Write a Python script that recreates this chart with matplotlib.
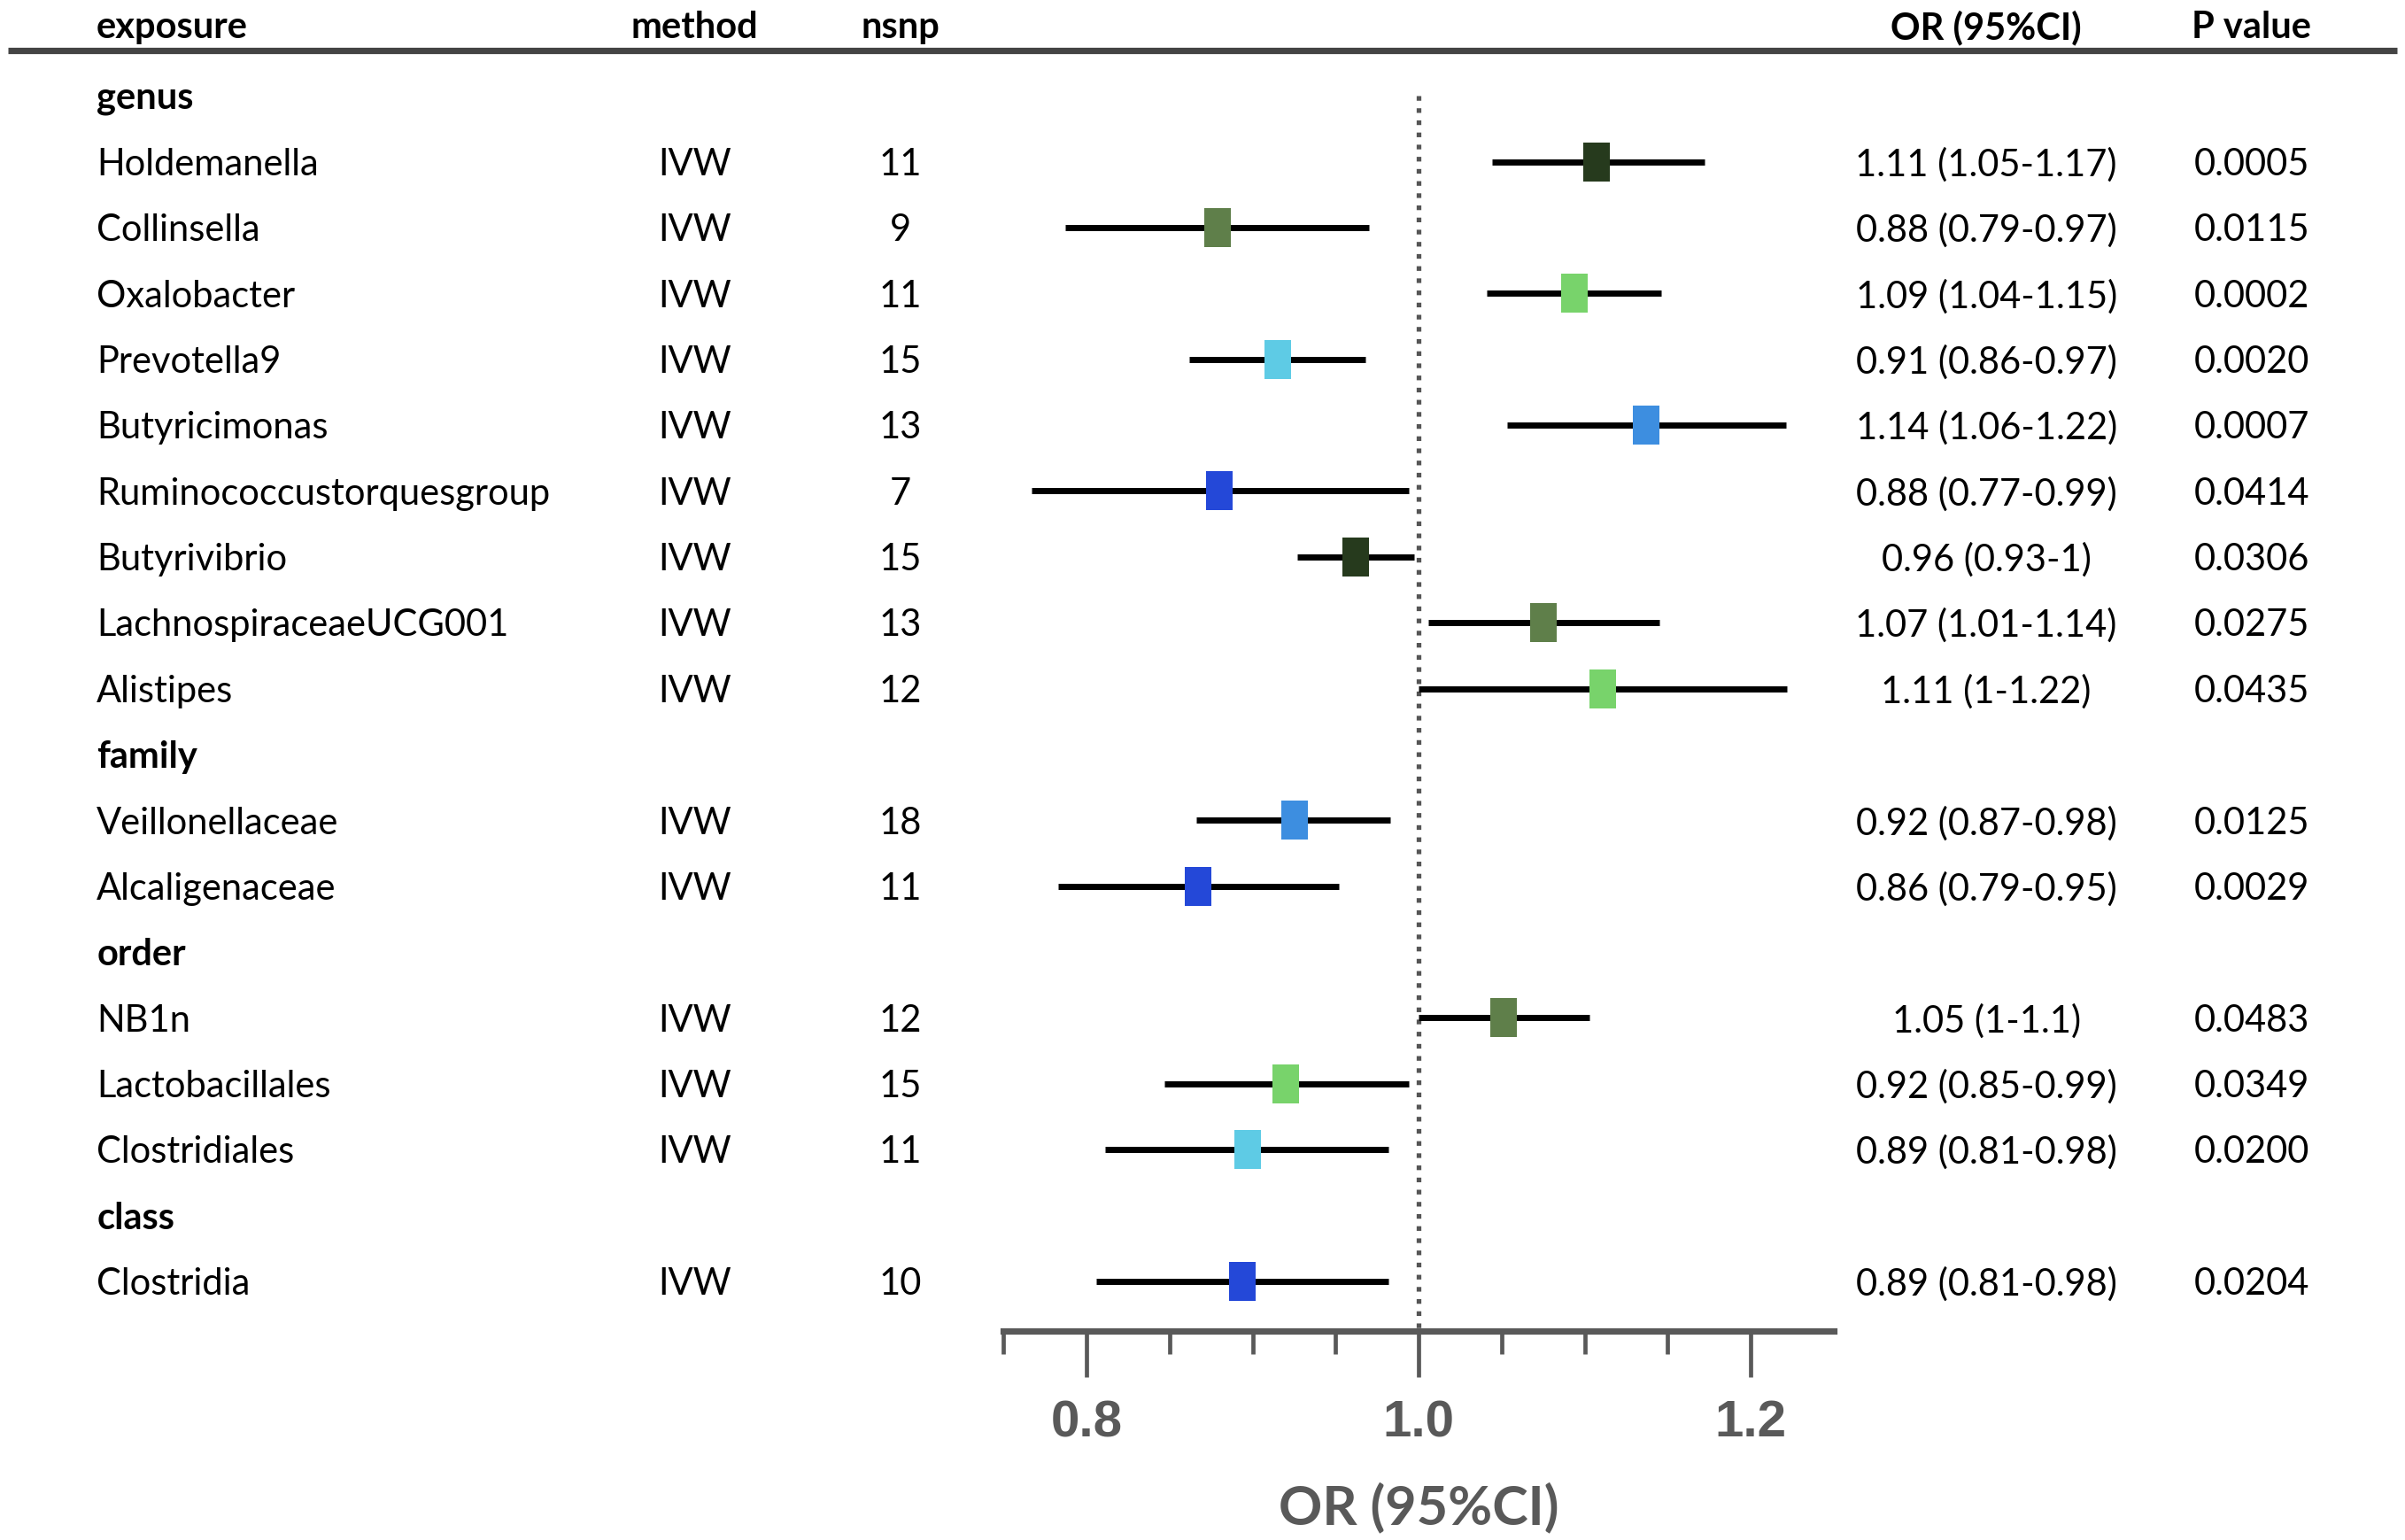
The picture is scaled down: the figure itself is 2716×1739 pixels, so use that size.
import matplotlib.pyplot as plt
from matplotlib import transforms
from matplotlib.ticker import FixedLocator

# data
sections = ['genus', 'family', 'order', 'class']
section_sizes = [9, 2, 3, 1]
exposures = ['Holdemanella', 'Collinsella', 'Oxalobacter', 'Prevotella9', 'Butyricimonas',
             'Ruminococcustorquesgroup', 'Butyrivibrio', 'LachnospiraceaeUCG001', 'Alistipes',
             'Veillonellaceae', 'Alcaligenaceae',
             'NB1n', 'Lactobacillales', 'Clostridiales',
             'Clostridia']
methods = ['IVW'] * 15
nsnp = [11, 9, 11, 15, 13, 7, 15, 13, 12, 18, 11, 12, 15, 11, 10]
or_est = [1.107, 0.879, 1.094, 0.915, 1.137, 0.880, 0.962, 1.075, 1.111,
          0.925, 0.867, 1.051, 0.920, 0.897, 0.894]
ci_low = [1.044, 0.787, 1.041, 0.862, 1.053, 0.767, 0.927, 1.006, 1.000,
          0.866, 0.783, 1.000, 0.847, 0.811, 0.806]
ci_high = [1.172, 0.970, 1.146, 0.968, 1.221, 0.994, 0.997, 1.145, 1.222,
           0.983, 0.952, 1.103, 0.994, 0.982, 0.982]
or_text = ['1.11 (1.05-1.17)', '0.88 (0.79-0.97)', '1.09 (1.04-1.15)', '0.91 (0.86-0.97)',
           '1.14 (1.06-1.22)', '0.88 (0.77-0.99)', '0.96 (0.93-1)', '1.07 (1.01-1.14)',
           '1.11 (1-1.22)', '0.92 (0.87-0.98)', '0.86 (0.79-0.95)', '1.05 (1-1.1)',
           '0.92 (0.85-0.99)', '0.89 (0.81-0.98)', '0.89 (0.81-0.98)']
p_text = ['0.0005', '0.0115', '0.0002', '0.0020', '0.0007', '0.0414', '0.0306', '0.0275',
          '0.0435', '0.0125', '0.0029', '0.0483', '0.0349', '0.0200', '0.0204']
dark, olive, lgreen, cyan, blue, royal = '#263a1d', '#5f7f4a', '#78d36b', '#5ecbe5', '#3d8ee0', '#2448d8'
colors = [dark, olive, lgreen, cyan, blue, royal, dark, olive, lgreen,
          blue, royal, olive, lgreen, cyan, royal]

plt.rcParams['font.family'] = ['Lato', 'DejaVu Sans']

fig = plt.figure(figsize=(13.58, 8.7), dpi=200)
ax = fig.add_axes([0.4173, 0.1359, 0.3452, 0.8312])
blend = transforms.blended_transform_factory(fig.transFigure, ax.transData)

# rijen: sectie-kop, dan de items
row = 0
section_rows = []
item_rows = []
for name, n in zip(sections, section_sizes):
    section_rows.append((name, row))
    row += 1
    for _ in range(n):
        item_rows.append(row)
        row += 1

fs = 15
x_exp, x_meth, x_nsnp, x_or, x_p = 0.0402, 0.2889, 0.3744, 0.8259, 0.9362
dy = 0.03  # tekst iets lager zetten

# koppen
hy = -1.05
ax.text(x_exp, hy, 'exposure', transform=blend, ha='left', va='center', fontsize=fs, weight='bold')
ax.text(x_meth, hy, 'method', transform=blend, ha='center', va='center', fontsize=fs, weight='bold')
ax.text(x_nsnp, hy, 'nsnp', transform=blend, ha='center', va='center', fontsize=fs, weight='bold')
ax.text(x_or, hy, 'OR (95%CI)', transform=blend, ha='center', va='center', fontsize=fs, weight='bold')
ax.text(x_p, hy, 'P value', transform=blend, ha='center', va='center', fontsize=fs, weight='bold')
ax.plot([0.0032, 0.9968], [-0.69, -0.69], transform=blend, color='#444444', lw=2.6,
        clip_on=False, solid_capstyle='butt')

for name, r in section_rows:
    ax.text(x_exp, r + dy, name, transform=blend, ha='left', va='center', fontsize=fs, weight='bold')

rect = [(-0.34, -0.5), (0.34, -0.5), (0.34, 0.5), (-0.34, 0.5), (-0.34, -0.5)]
for k, r in enumerate(item_rows):
    ax.text(x_exp, r + dy, exposures[k], transform=blend, ha='left', va='center', fontsize=fs)
    ax.text(x_meth, r + dy, methods[k], transform=blend, ha='center', va='center', fontsize=fs)
    ax.text(x_nsnp, r + dy, str(nsnp[k]), transform=blend, ha='center', va='center', fontsize=fs)
    ax.text(x_or, r + dy, or_text[k], transform=blend, ha='center', va='center', fontsize=fs)
    ax.text(x_p, r + dy, p_text[k], transform=blend, ha='center', va='center', fontsize=fs)
    ax.plot([ci_low[k], ci_high[k]], [r, r], color='black', lw=2.5, solid_capstyle='butt', zorder=2)
    ax.plot(or_est[k], r, marker=rect, ms=15.5, color=colors[k], mew=0, zorder=3)

# stippellijn bij OR = 1
ax.vlines(1.0, 0.0, 18.747, colors='#555555', linestyles=(0, (1.0, 1.6)), lw=1.9, zorder=1)

ax.set_xlim(0.75, 1.25)
ax.set_ylim(18.747, -0.698)
for s in ['left', 'right', 'top']:
    ax.spines[s].set_visible(False)
ax.spines['bottom'].set_color('#595959')
ax.spines['bottom'].set_linewidth(2.6)
ax.set_yticks([])
ax.xaxis.set_major_locator(FixedLocator([0.8, 1.0, 1.2]))
ax.xaxis.set_minor_locator(FixedLocator([0.75, 0.85, 0.9, 0.95, 1.05, 1.1, 1.15]))
ax.set_xticklabels(['0.8', '1.0', '1.2'])
ax.tick_params(axis='x', which='major', length=18.7, width=1.7, color='#595959', pad=9,
               labelsize=21, labelcolor='#595959')
ax.tick_params(axis='x', which='minor', length=9.4, width=1.7, color='#595959')
for lab in ax.get_xticklabels():
    lab.set_fontfamily(['Liberation Sans', 'DejaVu Sans'])
    lab.set_fontweight('bold')
ax.set_xlabel('OR (95%CI)', fontsize=22, weight='bold', color='#595959', labelpad=14)

fig.savefig('out.png', dpi=200)
